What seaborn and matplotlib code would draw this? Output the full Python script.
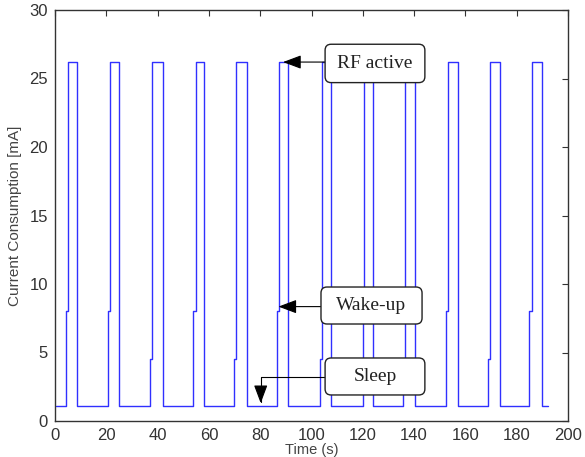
import numpy as np
import pandas as pd
import seaborn as sns
import matplotlib
matplotlib.use("Agg")
import matplotlib.pyplot as plt
from matplotlib.patches import FancyBboxPatch

# ---- data ----
sleep_level = 1.1
active_level = 26.2
t_start = 0.3
t_end = 192.3
wake_start = [4.2, 20.8, 37.0, 53.7, 69.8, 86.7, 103.3, 120.0, 135.8, 152.4, 168.7, 184.9]
wake_level = [8.0, 8.0, 4.5, 8.0, 4.5, 8.0, 4.5, 8.0, 4.5, 8.0, 4.5, 8.0]
rise_time = [4.9, 21.4, 37.7, 54.8, 70.4, 87.3, 103.9, 120.6, 136.4, 153.3, 169.6, 185.8]
fall_time = [8.7, 25.1, 42.0, 58.1, 74.7, 91.0, 107.6, 124.1, 140.5, 157.0, 173.5, 189.7]

x_ticks = [0, 20, 40, 60, 80, 100, 120, 140, 160, 180, 200]
y_ticks = [0, 5, 10, 15, 20, 25, 30]

# annotation labels and targets (data coords)
labels = ["RF active", "Wake-up", "Sleep"]
targets = [(88.9, 26.2), (87.1, 8.35), (80.2, 1.3)]

# ---- build step trace ----
t = [t_start]
v = [sleep_level]
for ws, wl, r, f in zip(wake_start, wake_level, rise_time, fall_time):
    t += [ws, ws, r, r, f, f]
    v += [sleep_level, wl, wl, active_level, active_level, sleep_level]
t.append(t_end)
v.append(sleep_level)
df = pd.DataFrame({"Time (s)": t, "Current": v})

sns.set_style("white")
plt.rcParams["font.family"] = ["Liberation Sans", "DejaVu Sans"]

fig = plt.figure(figsize=(5.85, 4.57), dpi=100)
ax = fig.add_axes([55 / 585, 1 - 421 / 457, (568 - 55) / 585, (421 - 10) / 457])

sns.lineplot(data=df, x="Time (s)", y="Current", estimator=None, sort=False,
             color="#3030ff", linewidth=1.0, ax=ax)

ax.set_xlim(0, 200)
ax.set_ylim(0, 30)
ax.set_xticks(x_ticks)
ax.set_yticks(y_ticks)
ax.tick_params(direction="in", length=4, width=0.8, top=True, right=True,
               labelsize=12, labelcolor="#333333", color="#333333", pad=5)
for s in ax.spines.values():
    s.set_color("#333333")
    s.set_linewidth(1.0)
ax.set_xlabel("Time (s)", fontsize=10.5, color="#444444", labelpad=0)
ax.set_ylabel("Current Consumption [mA]", fontsize=11, color="#444444", labelpad=5)

# ---- annotation boxes ----
boxes = [(105.3, 24.7, 38.9, 2.8), (103.7, 7.08, 39.4, 2.7), (105.3, 1.9, 38.9, 2.7)]
xs_per_px = 200 / 513
ys_per_px = 30 / 411
for (bx, by, bw, bh), lab in zip(boxes, labels):
    patch = FancyBboxPatch((bx, by), bw, bh,
                           boxstyle="round,pad=0,rounding_size=%f" % (6 * xs_per_px),
                           mutation_aspect=ys_per_px / xs_per_px,
                           facecolor="white", edgecolor="#222222", linewidth=1.0,
                           transform=ax.transData, zorder=5)
    ax.add_patch(patch)
    ax.text(bx + bw / 2, by + bh / 2, lab, ha="center", va="center",
            fontsize=14, family=["Liberation Serif", "DejaVu Serif"],
            color="#222222", zorder=6)

arrowstyle = "-|>,head_length=0.8,head_width=0.3"
# RF active
ax.annotate("", xy=targets[0], xytext=(boxes[0][0], targets[0][1]),
            arrowprops=dict(arrowstyle=arrowstyle, color="black", lw=0.8,
                            mutation_scale=14, shrinkA=0, shrinkB=0), zorder=4)
# Wake-up
ax.annotate("", xy=targets[1], xytext=(boxes[1][0], targets[1][1]),
            arrowprops=dict(arrowstyle=arrowstyle, color="black", lw=0.8,
                            mutation_scale=14, shrinkA=0, shrinkB=0), zorder=4)
# Sleep (elbow)
ax.annotate("", xy=targets[2], xytext=(boxes[2][0], 3.2),
            arrowprops=dict(arrowstyle=arrowstyle, color="black", lw=0.8,
                            mutation_scale=14, shrinkA=0, shrinkB=0,
                            connectionstyle="angle,angleA=0,angleB=90,rad=0"),
            zorder=4)

fig.savefig("out.png", dpi=100)
